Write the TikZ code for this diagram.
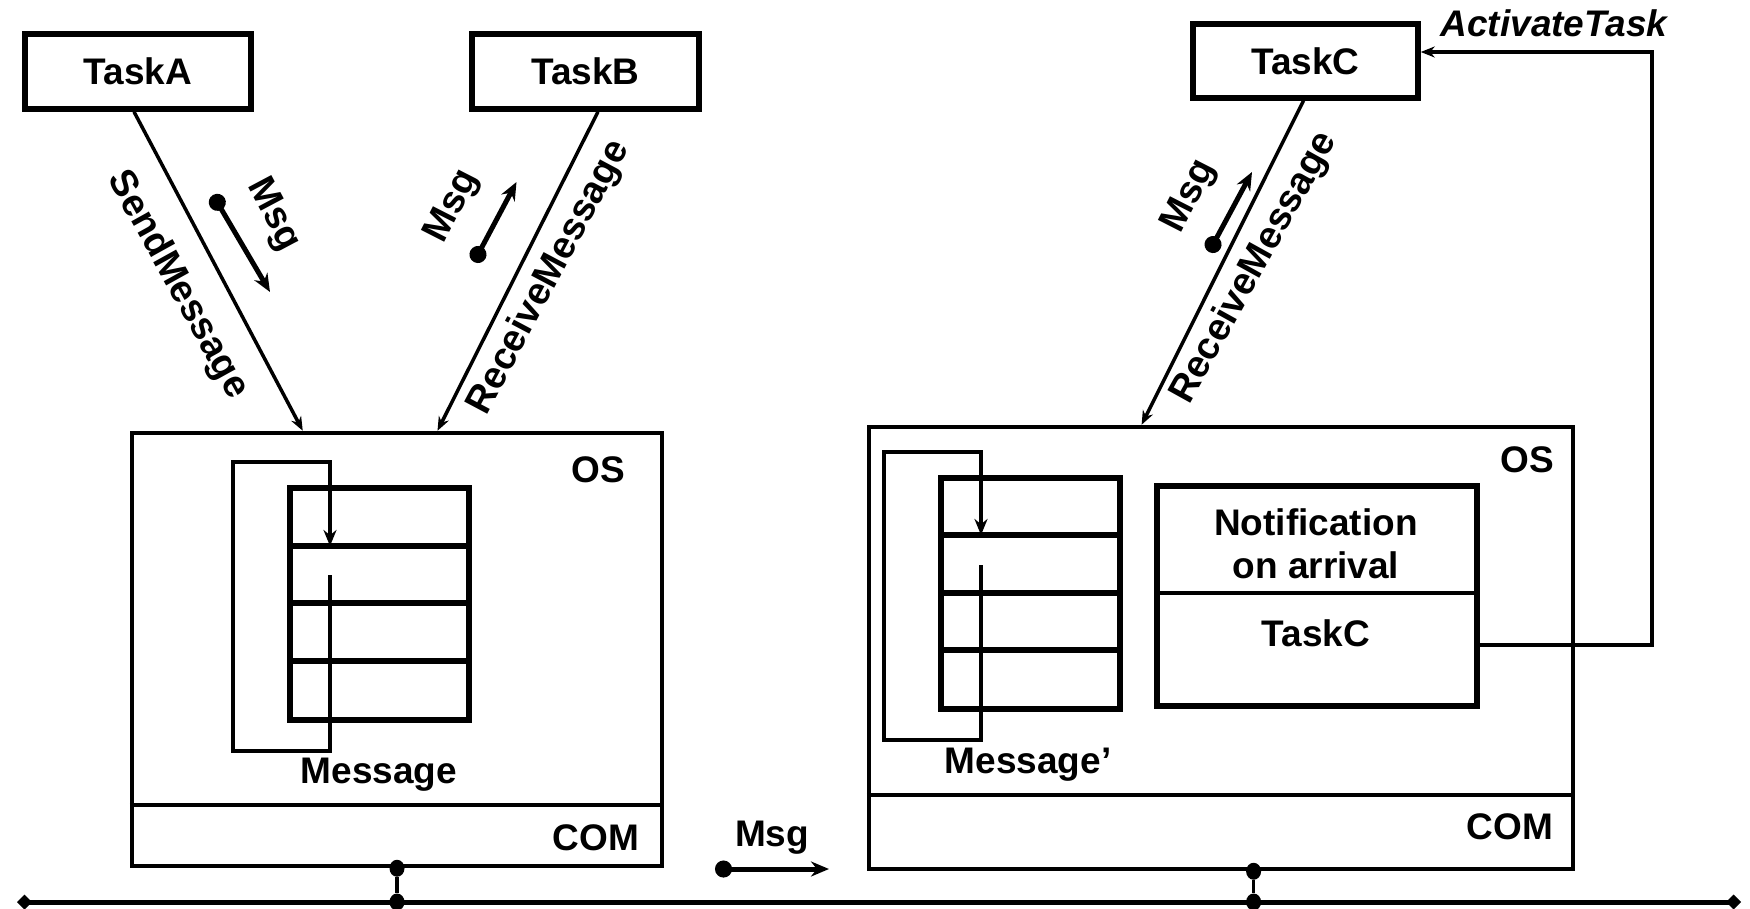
\documentclass[tikz,border=0pt]{standalone}
\usepackage{fontspec}
\setmainfont{Liberation Sans}
\usetikzlibrary{arrows.meta,calc,shapes.geometric}
\begin{document}
\begin{tikzpicture}[x=1pt,y=-1pt,
  every node/.style={font=\fontsize{37}{43}\selectfont\bfseries, inner sep=0pt},
  taskbox/.style={draw, line width=5.5pt, minimum width=226pt, minimum height=75pt},
  osbox/.style={draw, line width=4.5pt},
  queuebox/.style={draw, line width=6pt, minimum width=179pt},
  rowline/.style={line width=6pt},
  conn/.style={line width=3.5pt, -{Stealth[length=14pt,width=11pt]}},
  loopline/.style={line width=4pt, -{Stealth[length=16pt,width=13pt]}},
  msgarrow/.style={line width=5pt, {Circle[length=17pt]}-{Stealth[length=18pt,width=15pt]}},
  lbl/.style={font=\fontsize{38}{43}\selectfont\bfseries},
  jdot/.style={ellipse, fill, inner sep=0pt, minimum width=15pt, minimum height=17pt},
  bus/.style={line width=5pt, {Diamond[length=15pt,width=15pt]}-{Diamond[length=15pt,width=15pt]}}
]
\useasboundingbox (0,0) rectangle (1750,908);

% task boxes
\node[taskbox] (TaskA) at (138,71.5) {TaskA};
\node[taskbox, minimum width=227pt] (TaskB) at (585.5,71.5) {TaskB};
\node[taskbox, minimum width=225pt, minimum height=74pt] (TaskC) at (1305.5,61) {TaskC};

% OS boxes
\node[osbox, minimum width=530pt, minimum height=433pt] (osA) at (397,649.5) {};
\node[osbox, minimum width=704pt, minimum height=442pt] (osC) at (1221,648) {};
\draw[line width=4.5pt] (osA.west |- 0,805) coordinate (comAl) -- (osA.east |- 0,805) coordinate (comAr);
\draw[line width=4.5pt] (osC.west |- 0,795) coordinate (comCl) -- (osC.east |- 0,795) coordinate (comCr);
\node (osAlbl) at (598,470) {OS};
\node (comAlbl) at (596,838) {COM};
\node (osClbl) at (1527,460) {OS};
\node (comClbl) at (1510,827) {COM};

% queue A
\node[queuebox, minimum height=232pt] (qA) at (379.5,604) {};
\draw[rowline] (qA.west |- 0,546) -- (qA.east |- 0,546);
\draw[rowline] (qA.west |- 0,603) -- (qA.east |- 0,603);
\draw[rowline] (qA.west |- 0,661) -- (qA.east |- 0,661);
\coordinate (lA1) at (330,575);
\coordinate (lA2) at (330,751);
\coordinate (lA3) at (233,751);
\coordinate (lA4) at (233,462);
\coordinate (lA5) at (330,462);
\coordinate (lA6) at (330,546);
\draw[loopline] (lA1) -- (lA2) -- (lA3) -- (lA4) -- (lA5) -- (lA6);
\node (msgA) at (379,775) {Message};

% queue C
\node[queuebox, minimum height=231pt] (qC) at (1030.5,593.5) {};
\draw[rowline] (qC.west |- 0,535) -- (qC.east |- 0,535);
\draw[rowline] (qC.west |- 0,593) -- (qC.east |- 0,593);
\draw[rowline] (qC.west |- 0,650) -- (qC.east |- 0,650);
\coordinate (lC1) at (981,565);
\coordinate (lC2) at (981,740);
\coordinate (lC3) at (884,740);
\coordinate (lC4) at (884,452);
\coordinate (lC5) at (981,452);
\coordinate (lC6) at (981,535);
\draw[loopline] (lC1) -- (lC2) -- (lC3) -- (lC4) -- (lC5) -- (lC6);
\node (msgC) at (1028,765) {Message’};

% notification box
\node[draw, line width=6pt, minimum width=320pt, minimum height=220pt] (nC) at (1317,596) {};
\draw[line width=4pt] (nC.west |- 0,593) -- (nC.east |- 0,593);
\node (notif1) at (1316,522) {Notification};
\node (notif2) at (1316,565) {on arrival};
\node (notif3) at (1316,633) {TaskC};

% activate task
\coordinate (actCorner1) at (1652,645);
\coordinate (actCorner2) at (1652,52);
\draw[line width=3.5pt, -{Stealth[length=14pt,width=11pt]}] ([yshift=-49pt]nC.east) -- (actCorner1) -- (actCorner2) -- ([yshift=9pt]TaskC.east);
\node[font=\fontsize{37}{43}\selectfont\bfseries\itshape] (actLbl) at (1554,23) {ActivateTask};

% connectors
\draw[conn] ([xshift=-4pt]TaskA.south) -- ([xshift=173pt]osA.north west);
\draw[conn] ([xshift=12.5pt]TaskB.south) -- ([xshift=40.5pt]osA.north);
\draw[conn] ([xshift=-2pt]TaskC.south) -- ([xshift=-79.4pt]osC.north);

% labels on connectors
\node[lbl, rotate=-61] (sendLbl) at (177.5,285) {SendMessage};
\node[lbl, rotate=62] (recvB) at (549,278) {ReceiveMessage};
\node[lbl, rotate=61] (recvC) at (1254.5,268) {ReceiveMessage};
\node[lbl, rotate=-62] (msgLA) at (273,215) {Msg};
\node[lbl, rotate=63] (msgLB) at (453,207) {Msg};
\node[lbl, rotate=63] (msgLC) at (1190,197) {Msg};

% msg arrows
\coordinate (mA1) at (213,195);
\coordinate (mA2) at (270,292);
\draw[msgarrow] (mA1) -- (mA2);
\coordinate (mB1) at (474,262);
\coordinate (mB2) at (516.5,182);
\draw[msgarrow] (mB1) -- (mB2);
\coordinate (mC1) at (1209,252);
\coordinate (mC2) at (1252,172);
\draw[msgarrow] (mC1) -- (mC2);
\coordinate (mD1) at (715,869);
\coordinate (mD2) at (829,869);
\draw[msgarrow] (mD1) -- (mD2);
\node (msgBus) at (772,838) {Msg};

% bus
\coordinate (busL) at (17,902);
\coordinate (busR) at (1741,902);
\draw[bus] (busL) -- (busR);
\node[jdot] (jA1) at (osA.south) {};
\node[jdot] (jA2) at (osA.south |- busL) {};
\draw[line width=3.5pt] (jA1) -- (jA2);
\node[jdot] (jC1) at ([xshift=32.6pt]osC.south) {};
\node[jdot] (jC2) at (jC1 |- busL) {};
\draw[line width=3.5pt] (jC1) -- (jC2);
\end{tikzpicture}
\end{document}
